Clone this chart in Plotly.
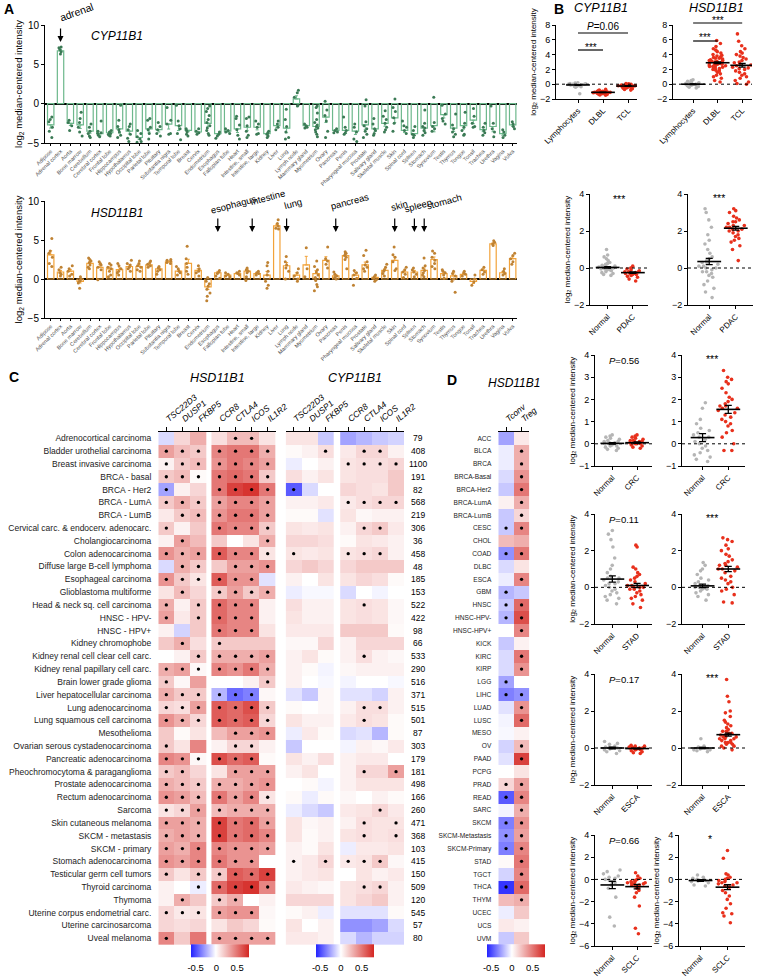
import numpy as np
import plotly.graph_objects as go

W, H = 760, 978
FONT = "Liberation Sans, Arial, sans-serif"
GREEN, GREEN_DOT = "#6db88c", "#3b7a55"
ORANGE, ORANGE_DOT = "#f2a33a", "#bf8233"
GREY, RED = "#b5b5b5", "#e8301c"

# ---------------- PANEL A: tissue atlas
tissues = ["Adipose", "Adrenal cortex", "Aorta", "Bone marrow", "Cerebellum", "Cerebral cortex",
           "Frontal lobe", "Hippocampus", "Hypothalamus", "Occipital lobe", "Parietal lobe",
           "Pituitary", "Substantia nigra", "Temporal lobe", "Breast", "Cervix", "Endometrium",
           "Esophagus", "Fallopian tube", "Heart", "Intestine, small", "Intestine, large",
           "Kidney", "Liver", "Lung", "Lymph node", "Mammary gland", "Myometrium", "Ovary",
           "Pancreas", "Penis", "Pharyngeal mucosa", "Prostate", "Salivary gland",
           "Skeletal muscle", "Skin", "Spinal cord", "Spleen", "Stomach", "Synovium", "Testis",
           "Thymus", "Tongue", "Tonsil", "Trachea", "Urethra", "Vagina", "Vulva"]

cyp_bar = [-2.7, 6.7, -2.5, -2.7, -3.5, -3.8, -3.7, -3.2, -3.5, -4.3, -3.2, -3.3, -2.6, -2.8,
           -3.4, -3.6, -2.5, -3.8, -3.5, -3.2, -3.0, -3.0, -3.8, -2.8, -3.1, 0.6, -2.8, -2.9,
           -1.7, -3.4, -3.4, -3.5, -2.7, -3.2, -2.5, -1.8, -3.4, -3.8, -3.1, -2.8, -1.4, -3.1,
           -2.8, -2.1, -3.3, -2.9, -3.8, -2.7]

cyp_dots = [
    [-1.7, -2.0, -2.3, -3.0, -3.5, -4.3], [7.2, 7.1, 6.6, 6.3, 6.9], [-2.1, -2.4, -2.8, -3.4],
    [-1.1, -1.9, -2.4, -3.0, -3.6, -4.1], [-2.6, -3.0, -3.5, -3.8, -4.1, -4.3],
    [-2.2, -3.5, -3.7, -3.8, -4.0, -4.2], [-3.4, -3.6, -3.8, -4.0, -4.1, -3.9],
    [-0.2, -2.1, -2.9, -3.3, -3.6, -4.0, -4.3], [-2.6, -2.9, -3.3, -3.9, -4.4, -4.8],
    [-3.4, -3.8, -4.2, -4.5, -4.8, -4.9], [-1.9, -2.1, -3.0, -3.3, -3.8, -4.5],
    [-2.4, -2.9, -3.3, -3.8, -4.1], [-0.5, -2.1, -2.6, -3.8, -3.9],
    [-0.2, -2.2, -2.8, -3.2, -3.8, -4.6], [-3.2, -3.4, -3.6, -3.9, -4.1], [-3.2, -3.5, -3.7, -3.9],
    [-0.3, -0.6, -1.0, -1.5, -2.0, -2.4, -2.8, -3.1, -3.4, -3.8, -4.0], [-3.6, -3.9, -4.1, -4.4],
    [-3.2, -3.4, -3.6, -3.8], [-1.6, -1.9, -2.7, -3.3, -4.0, -4.5], [-1.7, -1.9, -2.8, -3.5, -4.0, -4.3],
    [-2.2, -2.6, -3.0, -3.8, -3.9], [-3.5, -3.7, -3.9, -4.1, -4.3], [-2.2, -2.6, -3.0, -3.3],
    [-0.7, -2.0, -2.9, -3.6, -4.3, -4.5], [1.7, 1.4, 0.8, -0.2, -0.3], [-2.6, -2.8, -3.0, -3.1],
    [-0.3, -0.5, -1.2, -2.0, -2.4, -2.7, -2.9, -3.1, -3.3, -3.6, -3.9, -4.2],
    [0.3, -0.8, -1.5, -2.2, -3.5, -4.3], [-3.2, -3.4, -3.6, -3.7], [-1.7, -3.0, -3.4, -3.7, -3.9],
    [-2.6, -3.0, -3.6, -4.5, -4.8], [0.5, -0.3, -2.3, -2.8, -3.2, -3.5, -3.9, -4.3],
    [-1.9, -2.6, -3.2, -3.4, -3.8, -4.0], [-0.9, -1.6, -2.0, -2.5, -3.0, -3.3, -3.6],
    [0.6, -0.5, -1.0, -1.8, -2.5, -3.5], [-2.2, -2.8, -3.0, -3.4, -3.8], [-2.9, -3.4, -3.9, -4.3, -4.0],
    [-0.8, -2.5, -2.9, -3.1, -3.4, -3.7, -4.0], [0.8, -2.4, -2.9, -3.2, -3.5],
    [-0.2, -1.3, -1.9, -2.2, -2.6], [-1.3, -2.7, -3.2, -3.6, -3.9, -4.2],
    [-1.1, -2.5, -3.0, -3.4, -3.9, -4.0], [-0.6, -1.6, -2.5, -2.9, -3.0],
    [-2.5, -3.0, -3.4, -3.7, -4.0], [-0.3, -2.5, -3.2, -3.6, -4.2], [-3.3, -3.6, -4.0, -4.3],
    [-2.3, -2.6, -2.9, -3.2]]

hsd_bar = [3.1, 0.9, 1.0, -0.3, 2.0, 1.5, 1.3, 1.2, 1.6, 1.6, 1.8, 1.3, 2.2, 1.0, 2.0, 1.1, -1.0,
           0.8, 0.5, 0.7, 1.0, 0.7, 0.5, 6.8, 1.7, 0.5, 1.8, 0.7, 2.4, 0.4, 3.0, 0.5, 1.8, 0.2,
           1.1, 2.4, 0.9, 0.9, 1.1, 2.5, 0.7, 0.4, 0.6, -0.3, 1.1, 4.5, 0.8, 2.6]

hsd_dots = [
    [5.2, 3.6, 3.3, 2.8, 2.0, 1.6], [1.5, 1.2, 0.8, 0.6, 0.4], [1.7, 1.3, 1.0, 0.6, 0.4],
    [0.3, 0.0, -0.3, -0.5, -1.2, -0.2], [2.7, 2.5, 2.3, 2.1, 1.8, 1.5, 1.3],
    [2.2, 2.0, 1.8, 1.5, 1.2, -0.1], [2.0, 1.8, 1.5, 1.3, 1.0, 0.5, 0.3], [2.0, 1.7, 1.3, 1.0, 0.8, 0.5],
    [2.4, 2.0, 1.8, 1.5, 1.3, 1.0], [2.3, 2.0, 1.7, 1.5, 1.2, 1.0], [2.3, 2.1, 1.9, 1.7, 1.5],
    [1.6, 1.4, 1.2, 1.0, 0.6], [2.5, 2.4, 2.3, 2.1, 2.0], [1.6, 1.3, 1.0, 0.8, 0.5],
    [4.2, 2.6, 2.0, 1.5, 1.0, 0.6], [1.7, 1.3, 1.0, 0.8, 0.4],
    [0.2, -0.3, -0.6, -0.9, -1.3, -1.8, -2.2, -2.8], [1.1, 0.9, 0.7, 0.4, 0.1], [0.8, 0.6, 0.4, 0.3],
    [1.0, 0.8, 0.7, 0.5], [1.4, 1.2, 1.0, 0.8, 0.3, -0.2], [1.0, 0.8, 0.7, 0.5],
    [2.1, 1.7, 1.0, 0.5, -0.3, -0.8, -1.2], [7.6, 7.1, 6.8, 6.5, 6.4], [2.9, 2.2, 1.8, 1.4, 1.0, 0.0],
    [1.3, 0.8, 0.4, 0.0, -0.3], [4.0, 1.3, 0.3], [2.3, 1.6, 1.2, 0.9, 0.5, 0.2, -0.2, -0.7, -1.0, -1.5],
    [4.1, 2.6, 2.3, 1.9, 1.4], [0.9, 0.6, 0.4, 0.2, 0.0], [3.5, 3.3, 3.2, 3.0, 2.8, 2.5, 1.3],
    [1.1, 0.8, 0.5, 0.1, -0.8], [3.7, 3.0, 2.2, 1.8, 1.5, 1.3, 1.0], [0.5, 0.3, 0.1, -0.1, -0.3],
    [1.9, 1.5, 1.2, 1.0, 0.7, 0.4], [4.1, 3.1, 2.8, 2.2, 1.3, 1.1], [1.5, 1.2, 0.9, 0.6, 0.2],
    [1.4, 1.2, 0.9, 0.6, 0.3], [2.7, 1.7, 1.4, 1.1, 0.8, 0.5, 0.3], [3.6, 3.3, 2.8, 2.4, 2.0, 1.6, 1.3],
    [1.2, 1.0, 0.8, 0.5, 0.1], [1.0, 0.7, 0.4, 0.0, -0.3, -1.7], [1.0, 0.8, 0.6, 0.4],
    [0.5, 0.0, -0.4, -0.8], [1.5, 1.2, 0.9, 0.6], [4.9, 4.7, 4.5, 4.3], [1.3, 1.0, 0.7, 0.5],
    [3.3, 3.0, 2.6, 2.2, 1.9]]

# ---------------- PANEL B: normal vs tumour
b1_cats = ["Lymphocytes", "DLBL", "TCL"]
b1_cyp = [[0.2, 0.15, 0.1, 0.1, 0.05, 0.0, 0.0, -0.05, -0.1, -0.1, -0.15, -0.2, -0.2, -0.25, -0.3,
           -0.35, -0.4, -1.3, 0.0, -0.1],
          [-0.7, -0.8, -0.85, -0.9, -0.9, -0.95, -1.0, -1.0, -1.0, -1.05, -1.05, -1.1, -1.1, -1.1, -1.1,
           -1.15, -1.15, -1.2, -1.2, -1.2, -1.25, -1.25, -1.3, -1.3, -1.35, -1.4, -1.45, -1.5, -1.0,
           -1.1, -1.2, -1.15, -1.05],
          [0.1, 0.05, 0.0, -0.05, -0.1, -0.1, -0.15, -0.2, -0.2, -0.25, -0.25, -0.3, -0.3, -0.35, -0.4,
           -0.45, -0.5, -0.55, -0.6, -0.7, -0.8, -0.2, -0.3]]
b1_cyp_mean, b1_cyp_sem = [-0.1, -1.1, -0.25], [0.05, 0.03, 0.04]
b1_hsd = [[0.6, 0.5, 0.4, 0.3, 0.2, 0.15, 0.1, 0.05, 0.0, 0.0, -0.05, -0.1, -0.15, -0.2, -0.3, -0.4,
           -0.5, 0.0, -0.05, 0.1],
          [5.9, 5.5, 5.1, 4.8, 4.6, 4.4, 4.2, 4.0, 3.9, 3.8, 3.6, 3.5, 3.4, 3.3, 3.2, 3.1, 3.0, 3.0,
           2.9, 2.8, 2.8, 2.7, 2.6, 2.5, 2.5, 2.4, 2.3, 2.2, 2.1, 2.0, 1.9, 1.8, 1.6, 1.4, 1.2, 1.0,
           0.8, 0.5, 0.3, 3.5, 3.2, 2.9, 2.6, 2.4, 3.7, 3.1, 2.7],
          [6.8, 5.8, 5.2, 4.8, 4.4, 4.2, 4.0, 3.6, 3.4, 3.2, 3.0, 2.8, 2.6, 2.5, 2.3, 2.1, 2.0, 1.8,
           1.6, 1.4, 1.2, 1.0, 0.8, 0.5, 0.3, 0.1, 0.0, 3.8, 2.9, 2.2]]
b1_hsd_mean, b1_hsd_sem = [0.0, 2.9, 2.55], [0.04, 0.12, 0.25]

b2_cats = ["Normal", "PDAC"]
b2_cyp = [[1.0, 0.7, 0.6, 0.5, 0.4, 0.3, 0.25, 0.2, 0.15, 0.1, 0.1, 0.05, 0.0, 0.0, -0.05, -0.1, -0.1,
           -0.15, -0.2, -0.25, -0.3, -0.35, -0.4, 0.05, -0.05, 0.0],
          [0.1, 0.0, -0.05, -0.1, -0.15, -0.2, -0.2, -0.25, -0.25, -0.3, -0.3, -0.35, -0.35, -0.4, -0.45,
           -0.5, -0.6, -0.7, -0.3, -0.2]]
b2_cyp_mean, b2_cyp_sem = [0.03, -0.25], [0.04, 0.04]
b2_hsd = [[3.2, 3.0, 2.6, 2.2, 1.8, 1.5, 1.3, 1.0, 0.8, 0.6, 0.5, 0.4, 0.3, 0.2, 0.1, 0.0, -0.1, -0.2,
           -0.3, -0.4, -0.5, -0.7, -0.9, -1.1, -1.3, -1.6, 0.1, 0.0, -0.2, 0.3],
          [3.2, 3.1, 3.0, 2.8, 2.7, 2.6, 2.5, 2.4, 2.3, 2.2, 2.2, 2.1, 2.1, 2.0, 2.0, 1.9, 1.8, 1.7, 1.6,
           1.5, 1.4, 1.2, 1.0, 0.4, 2.3, 2.5]]
b2_hsd_mean, b2_hsd_sem = [0.35, 2.15], [0.17, 0.1]

b3_cats = ["Normal", "CRC"]
b3_cyp = [[0.4, 0.35, 0.3, 0.25, 0.2, 0.15, 0.1, 0.1, 0.05, 0.0, 0.0, -0.05, -0.1, -0.1, -0.15, -0.2,
           -0.25, -0.3, 0.05, 0.0],
          [0.4, 0.35, 0.3, 0.25, 0.2, 0.15, 0.15, 0.1, 0.1, 0.05, 0.05, 0.0, 0.0, -0.05, -0.1, -0.15,
           -0.2, 0.1, 0.05, 0.0]]
b3_cyp_mean, b3_cyp_sem = [0.02, 0.05], [0.03, 0.03]
b3_hsd = [[1.85, 1.6, 1.1, 0.9, 0.7, 0.6, 0.5, 0.4, 0.3, 0.2, 0.1, 0.0, -0.1, -0.2, -0.3, -0.4, -0.5,
           -0.6, -0.7, -0.8, 0.3],
          [3.3, 3.0, 2.9, 2.8, 2.7, 2.5, 2.3, 2.1, 2.0, 1.9, 1.8, 1.7, 1.6, 1.5, 1.4, 1.3, 1.2, 1.1,
           1.0, 0.9, 0.8, 0.6, 0.5, 0.3, 0.0, -0.3, -0.3, 1.6, 1.7]]
b3_hsd_mean, b3_hsd_sem = [0.28, 1.55], [0.18, 0.18]

b4_cats = ["Normal", "STAD"]
b4_cyp = [[3.1, 2.9, 2.6, 2.2, 1.6, 1.2, 1.0, 0.8, 0.6, 0.5, 0.4, 0.3, 0.2, 0.1, 0.0, -0.1, -0.2,
           -0.3, -0.4, -0.5, -0.6, -0.7, -0.9, 0.2, 0.5],
          [2.3, 2.2, 1.1, 1.0, 0.8, 0.7, 0.6, 0.5, 0.4, 0.3, 0.2, 0.1, 0.1, 0.0, 0.0, -0.1, -0.2, -0.3,
           -0.4, -0.5, -0.6, -0.7, -0.9, -1.1, 0.0, -0.1]]
b4_cyp_mean, b4_cyp_sem = [0.45, 0.1], [0.17, 0.12]
b4_hsd = [[1.35, 1.2, 1.0, 0.9, 0.7, 0.5, 0.4, 0.3, 0.2, 0.1, 0.05, 0.0, -0.05, -0.1, -0.2, -0.3,
           -0.4, -0.5, -0.7, 0.0, 0.1, -0.1],
          [2.7, 2.6, 2.5, 2.3, 2.1, 2.0, 1.8, 1.7, 1.5, 1.4, 1.3, 1.2, 1.1, 1.0, 0.9, 0.8, 0.6, 0.5,
           0.4, 0.3, 0.2, 0.0, -0.1, -0.2, -0.4, -0.8, -0.85, 1.0, 1.2]]
b4_hsd_mean, b4_hsd_sem = [0.08, 1.0], [0.1, 0.14]

b5_cats = ["Normal", "ESCA"]
b5_cyp = [[0.35, 0.25, 0.2, 0.1, 0.05, 0.0, 0.0, -0.05, -0.1, -0.15, -0.2, -0.3, 0.0, 0.05],
          [0.15, 0.1, 0.1, 0.05, 0.05, 0.0, 0.0, 0.0, -0.05, -0.05, -0.1, -0.1, -0.15, -0.2, -0.25,
           -0.3, 0.0, -0.05]]
b5_cyp_mean, b5_cyp_sem = [0.0, -0.03], [0.04, 0.02]
b5_hsd = [[0.5, 0.1, 0.05, 0.0, 0.0, -0.05, -0.1, -0.1, -0.15, -0.2, 0.0, -0.05],
          [3.7, 2.8, 2.5, 2.0, 1.9, 1.7, 1.5, 1.4, 1.3, 1.2, 1.1, 1.0, 0.9, 0.9, 0.8, 0.8, 0.7, 0.7,
           0.6, 0.6, 0.5, 0.5, 0.4, 0.4, 0.3, 0.3, 0.2, 0.2, 0.1, 0.1, 0.0, -0.1, 0.6, 0.5, 0.3, 0.8]]
b5_hsd_mean, b5_hsd_sem = [0.0, 0.72], [0.03, 0.08]

b6_cats = ["Normal", "SCLC"]
b6_cyp = [[0.85, 0.7, 0.5, 0.3, 0.2, 0.0, -0.1, -0.2, -0.3, -0.5, -0.8, -1.6, -3.4, -4.2, 0.1, -0.2],
          [0.6, 0.3, 0.1, 0.0, -0.1, -0.2, -0.3, -0.3, -0.4, -0.4, -0.5, -0.5, -0.6, -0.7, -0.8, -1.0,
           -1.2, -1.6, -2.4, -4.4, -4.9, -0.2, -0.3]]
b6_cyp_mean, b6_cyp_sem = [-0.5, -0.65], [0.33, 0.2]
b6_hsd = [[0.4, 0.2, 0.1, 0.0, -0.1, -0.1, -0.15, -0.2, -0.3, -0.5, -0.6, 0.0],
          [2.6, 1.9, 0.5, 0.4, 0.2, 0.1, 0.0, -0.1, -0.2, -0.3, -0.5, -0.7, -1.0, -1.2, -1.5, -1.8,
           -2.2, -2.6, -3.0, -3.1, -3.3, -3.9, -0.4, -0.3, -0.6]]
b6_hsd_mean, b6_hsd_sem = [-0.1, -0.7], [0.07, 0.22]

# ---------------- PANEL C: TCGA correlations
c_genes = ["TSC22D3", "DUSP1", "FKBP5", "CCR8", "CTLA4", "ICOS", "IL1R2"]
c_cancers = ["Adrenocortical carcinoma", "Bladder urothelial carcinoma", "Breast invasive carcinoma",
             "BRCA - basal", "BRCA - Her2", "BRCA - LumA", "BRCA - LumB",
             "Cervical carc. & endocerv. adenocarc.", "Cholangiocarcinoma", "Colon adenocarcinoma",
             "Diffuse large B-cell lymphoma", "Esophageal carcinoma", "Glioblastoma multiforme",
             "Head & neck sq. cell carcinoma", "HNSC - HPV-", "HNSC - HPV+", "Kidney chromophobe",
             "Kidney renal cell clear cell carc.", "Kidney renal papillary cell carc.",
             "Brain lower grade glioma", "Liver hepatocellular carcinoma", "Lung adenocarcinoma",
             "Lung squamous cell carcinoma", "Mesothelioma", "Ovarian serous cystadenocarcinoma",
             "Pancreatic adenocarcinoma", "Pheochromocytoma & paraganglioma", "Prostate adenocarcinoma",
             "Rectum adenocarcinoma", "Sarcoma", "Skin cutaneous melanoma", "SKCM - metastasis",
             "SKCM - primary", "Stomach adenocarcinoma", "Testicular germ cell tumors",
             "Thyroid carcinoma", "Thymoma", "Uterine corpus endometrial carc.",
             "Uterine carcinosarcoma", "Uveal melanoma"]
c_n = [79, 408, 1100, 191, 82, 568, 219, 306, 36, 458, 48, 185, 153, 522, 422, 98, 66, 533, 290,
       516, 371, 515, 501, 87, 303, 179, 181, 498, 166, 260, 471, 368, 103, 415, 150, 509, 120,
       545, 57, 80]

c_hsd = [[-0.1, 0.15, 0.3, 0.12, 0.25, 0.25, 0.1], [0.35, 0.25, 0.2, 0.45, 0.5, 0.5, 0.3],
         [0.05, 0.2, 0.25, 0.4, 0.5, 0.45, 0.35], [0.2, 0.25, 0.02, 0.5, 0.55, 0.5, 0.2],
         [-0.25, 0.05, 0.15, 0.5, 0.7, 0.75, 0.5], [0.2, 0.3, 0.2, 0.35, 0.45, 0.45, 0.35],
         [0.08, 0.2, 0.25, 0.4, 0.5, 0.5, 0.35], [0.2, 0.05, 0.2, 0.5, 0.45, 0.45, 0.2],
         [0.05, 0.35, 0.25, 0.2, 0.0, 0.1, 0.3], [0.4, 0.3, 0.35, 0.6, 0.45, 0.45, 0.1],
         [-0.1, 0.3, 0.2, 0.2, 0.35, 0.35, 0.4], [0.4, 0.2, 0.1, 0.6, 0.4, 0.4, -0.08],
         [0.1, 0.25, 0.15, 0.2, 0.35, 0.2, 0.3], [0.3, 0.05, 0.2, 0.55, 0.45, 0.45, 0.05],
         [0.35, 0.08, 0.2, 0.55, 0.45, 0.45, 0.05], [0.05, -0.12, 0.2, 0.5, 0.45, 0.45, 0.1],
         [0.2, 0.3, 0.12, 0.2, 0.2, 0.2, 0.2], [0.0, 0.05, 0.2, 0.3, 0.3, 0.3, 0.35],
         [0.3, 0.35, 0.03, 0.45, 0.4, 0.5, 0.3], [0.2, 0.03, 0.35, 0.0, 0.0, 0.05, 0.2],
         [0.3, 0.2, 0.2, -0.2, -0.4, -0.35, 0.03], [0.15, 0.12, 0.35, 0.6, 0.55, 0.65, 0.2],
         [0.4, 0.3, 0.15, 0.6, 0.55, 0.6, 0.15], [0.2, 0.02, 0.1, 0.25, 0.35, 0.35, 0.4],
         [0.2, 0.1, 0.45, 0.05, 0.15, 0.15, 0.05], [0.45, 0.4, 0.03, 0.65, 0.55, 0.6, 0.02],
         [0.2, 0.25, 0.15, 0.1, 0.35, 0.35, 0.35], [0.3, 0.25, 0.2, 0.3, 0.3, 0.35, 0.4],
         [0.4, 0.35, 0.25, 0.5, 0.35, 0.45, 0.1], [0.1, 0.15, 0.35, 0.25, 0.3, 0.3, 0.3],
         [0.35, 0.35, 0.3, 0.7, 0.5, 0.55, 0.35], [0.3, 0.35, 0.3, 0.7, 0.5, 0.55, 0.45],
         [0.35, 0.3, 0.45, 0.45, 0.4, 0.4, 0.35], [0.4, 0.35, 0.45, 0.5, 0.4, 0.4, 0.0],
         [0.2, 0.1, 0.2, 0.2, 0.6, 0.55, 0.7], [0.05, 0.0, -0.05, 0.55, 0.7, 0.75, 0.45],
         [0.05, 0.3, 0.2, 0.2, 0.3, 0.0, 0.05], [0.15, 0.08, 0.1, 0.35, 0.4, 0.4, 0.03],
         [0.15, 0.12, 0.15, 0.1, 0.2, 0.15, 0.02], [0.45, 0.2, 0.5, 0.35, 0.35, 0.35, 0.35]]
c_hsd_sig = ["0000110", "1111111", "1111111", "1111111", "1001111", "1111111", "0111111",
             "1001111", "0100001", "1111111", "0110111", "1111110", "0101111", "1011110",
             "1011110", "0001110", "0101000", "0011111", "1111111", "1000001", "1111110",
             "1111111", "1111111", "0000111", "1000110", "1111110", "1100111", "1111111",
             "1111111", "1111111", "1111111", "1111111", "1111111", "1111110", "1011111",
             "0011111", "0101100", "1111110", "0000000", "1001111"]

c_cyp = [[0.1, 0.1, -0.15, -0.25, -0.2, -0.15, -0.12], [0.02, 0.05, 0.12, 0.08, 0.15, 0.15, 0.05],
         [-0.05, 0.0, 0.05, 0.1, 0.12, 0.12, 0.15], [0.12, 0.05, 0.1, 0.1, 0.12, 0.12, 0.2],
         [-0.45, -0.1, 0.0, 0.15, 0.12, 0.1, 0.2], [0.05, 0.05, 0.08, 0.08, 0.12, 0.15, 0.15],
         [0.02, 0.02, -0.08, 0.1, 0.03, 0.05, 0.05], [0.1, 0.08, 0.1, 0.05, 0.15, 0.2, 0.08],
         [0.15, 0.15, 0.12, 0.02, 0.1, 0.08, 0.05], [0.1, 0.08, 0.1, 0.1, 0.12, 0.15, 0.05],
         [0.15, 0.2, 0.15, 0.15, 0.2, 0.2, 0.2], [0.05, 0.0, 0.1, 0.1, 0.15, 0.12, 0.02],
         [-0.05, -0.02, -0.02, -0.1, 0.0, -0.03, 0.0], [0.12, 0.05, 0.05, 0.1, 0.12, 0.1, 0.03],
         [0.1, 0.05, 0.05, 0.1, 0.12, 0.1, 0.03], [0.08, 0.08, 0.08, 0.2, 0.2, 0.2, 0.02],
         [0.03, 0.03, 0.15, 0.05, 0.15, 0.15, 0.15], [0.05, 0.1, 0.02, 0.05, 0.12, 0.05, 0.03],
         [0.05, 0.02, -0.03, 0.03, 0.05, 0.05, 0.05], [0.05, 0.0, -0.02, -0.03, 0.0, 0.0, -0.02],
         [-0.08, -0.15, 0.03, -0.08, -0.08, -0.12, 0.05], [0.02, 0.0, 0.03, 0.05, 0.12, 0.12, 0.05],
         [0.1, 0.05, 0.05, 0.08, 0.12, 0.1, 0.02], [-0.05, 0.08, 0.02, -0.1, -0.08, -0.2, 0.02],
         [-0.15, 0.0, 0.0, -0.03, 0.05, 0.03, 0.08], [0.1, 0.05, 0.12, 0.05, 0.08, 0.08, 0.0],
         [0.05, 0.1, 0.0, 0.05, 0.15, 0.15, 0.35], [0.0, 0.02, -0.03, 0.05, 0.1, 0.1, 0.1],
         [0.02, -0.05, 0.02, 0.03, 0.0, 0.05, 0.02], [-0.05, -0.1, -0.15, 0.08, 0.1, 0.15, 0.08],
         [0.1, 0.03, 0.05, 0.05, 0.12, 0.1, 0.1], [0.1, 0.02, 0.05, 0.1, 0.12, 0.1, 0.12],
         [0.05, 0.02, 0.1, -0.05, 0.08, 0.08, 0.1], [0.05, 0.08, 0.15, 0.08, 0.1, 0.2, 0.03],
         [0.05, 0.08, 0.1, 0.0, 0.1, 0.05, 0.08], [0.08, 0.05, 0.03, 0.1, 0.12, 0.15, 0.05],
         [0.15, 0.15, 0.15, 0.1, 0.15, 0.2, 0.05], [0.02, 0.05, -0.05, -0.08, -0.08, -0.08, 0.02],
         [0.1, 0.0, 0.05, -0.3, -0.3, -0.25, -0.1], [0.08, 0.08, 0.05, -0.1, -0.2, -0.12, -0.12]]
c_cyp_sig = ["0000000", "0010110", "0001111", "0000000", "1000000", "0001111", "0000000",
             "0000110", "0000000", "1001110", "0000000", "0000000", "0000000", "0000100",
             "0000000", "0000000", "0000000", "0000100", "0000000", "0000000", "0000000",
             "0000110", "0000100", "0000000", "0000000", "0000000", "0000101", "0000000",
             "0000000", "0000010", "0000101", "0000101", "0000000", "1011110", "0000000",
             "0000110", "0000000", "0000000", "0000000", "0000000"]

# ---------------- PANEL D: Tconv / Treg
d_cols = ["Tconv", "Treg"]
d_codes = ["ACC", "BLCA", "BRCA", "BRCA-Basal", "BRCA-Her2", "BRCA-LumA", "BRCA-LumB", "CESC",
           "CHOL", "COAD", "DLBC", "ESCA", "GBM", "HNSC", "HNSC-HPV-", "HNSC-HPV+", "KICK", "KIRC",
           "KIRP", "LGG", "LIHC", "LUAD", "LUSC", "MESO", "OV", "PAAD", "PCPG", "PRAD", "READ",
           "SARC", "SKCM", "SKCM-Metastasis", "SKCM-Primary", "STAD", "TGCT", "THCA", "THYM",
           "UCEC", "UCS", "UVM"]
d_vals = [[-0.25, 0.08], [-0.05, 0.3], [-0.05, 0.3], [-0.1, 0.4], [-0.15, 0.5], [0.05, 0.3],
          [-0.15, 0.15], [-0.15, 0.45], [0.25, 0.3], [-0.3, 0.5], [-0.1, 0.1], [-0.05, 0.45],
          [-0.2, -0.15], [-0.15, 0.55], [-0.2, 0.65], [0.0, 0.45], [-0.15, 0.05], [-0.1, 0.5],
          [-0.1, 0.4], [-0.25, 0.0], [-0.35, -0.3], [-0.08, 0.4], [-0.03, 0.55], [-0.02, 0.05],
          [-0.12, 0.25], [-0.08, 0.7], [0.0, 0.1], [0.15, 0.35], [-0.45, 0.45], [-0.03, 0.3],
          [-0.35, 0.4], [-0.3, 0.35], [-0.35, 0.45], [0.02, 0.5], [-0.12, 0.45], [-0.55, 0.55],
          [0.25, 0.3], [-0.05, 0.2], [0.08, 0.05], [-0.15, 0.2]]
d_sig = ["00", "01", "01", "01", "01", "01", "01", "11", "00", "11", "00", "01", "10", "11", "11",
         "01", "00", "01", "01", "10", "11", "01", "01", "00", "01", "01", "00", "11", "11", "01",
         "11", "11", "11", "01", "01", "11", "01", "00", "00", "00"]

# ======================================================================
fig = go.Figure()
layout = {}
shapes = []
annots = []
n_ax = 0


def X(p):
    return p / W


def Y(p):
    return 1 - p / H


def new_axes(xd, yd, xo, yo):
    global n_ax
    n_ax += 1
    s = '' if n_ax == 1 else str(n_ax)
    layout['xaxis' + s] = dict(domain=[X(xd[0]), X(xd[1])], anchor='y' + s, **xo)
    layout['yaxis' + s] = dict(domain=[Y(yd[1]), Y(yd[0])], anchor='x' + s, **yo)
    return 'x' + s, 'y' + s


def style(**kw):
    d = dict(showgrid=False, zeroline=False, showline=True, linecolor='black', linewidth=1,
             ticks='outside', ticklen=3, tickcolor='black', tickwidth=1, tickfont=dict(size=9))
    d.update(kw)
    return d


def note(text, x, y, size=9, xref='paper', yref='paper', **kw):
    annots.append(dict(text=text, x=x, y=y, xref=xref, yref=yref, showarrow=False,
                       xanchor='center', yanchor='middle', font=dict(size=size), **kw))


def arrow(xa, idx, head, tail):
    annots.append(dict(x=idx, y=Y(head), xref=xa, yref='paper', text='', showarrow=True,
                       ax=0, ay=-(head - tail), arrowhead=2, arrowsize=1, arrowwidth=1.2,
                       arrowcolor='black'))


YT = 'log<sub>2</sub> median-centered intensity'

# ---------------- PANEL A
def tissue_panel(top, bot, means, dots, edge, dotc):
    xa, ya = new_axes((45, 517), (top, bot),
                      style(type='category', categoryorder='array', categoryarray=tissues,
                            range=[-0.58, 47.44], tickangle=-45, ticklen=2,
                            tickfont=dict(size=5.5, color='#505050')),
                      style(range=[-5, 10], tickvals=[-5, 0, 5, 10], tickfont=dict(size=10),
                            zeroline=True, zerolinecolor='black', zerolinewidth=1.6,
                            title=dict(text=YT, font=dict(size=9.5), standoff=3)))
    sem = [np.std(d, ddof=1) / np.sqrt(len(d)) for d in dots]
    plus = [s if m >= 0 else 0 for s, m in zip(sem, means)]
    minus = [s if m < 0 else 0 for s, m in zip(sem, means)]
    fig.add_trace(go.Bar(x=tissues, y=means, xaxis=xa, yaxis=ya,
                         marker=dict(color='rgba(255,255,255,0)', line=dict(color=edge, width=1.2)),
                         error_y=dict(type='data', symmetric=False, array=plus, arrayminus=minus,
                                      color=edge, thickness=1, width=1.5)))
    bx, by = [], []
    for t, d in zip(tissues, dots):
        bx += [t] * len(d)
        by += d
    fig.add_trace(go.Box(x=bx, y=by, xaxis=xa, yaxis=ya, boxpoints='all', jitter=0.8, pointpos=0,
                         width=0.55, fillcolor='rgba(0,0,0,0)', line=dict(width=0),
                         marker=dict(color=dotc, size=3)))
    return xa, ya


xa1, ya1 = tissue_panel(25, 143, cyp_bar, cyp_dots, GREEN, GREEN_DOT)
xa2, ya2 = tissue_panel(201, 318, hsd_bar, hsd_dots, ORANGE, ORANGE_DOT)

note('<i>CYP11B1</i>', X(117), Y(36), size=12)
note('<i>HSD11B1</i>', X(117), Y(213), size=12)
note('adrenal', X(76), Y(12), size=10.5, textangle=-20)
arrow(xa1, 1, 42, 27)
for lab, idx, cx, cy in [("esophagus", 17, 233, 204), ("intestine", 20.5, 267, 197),
                         ("lung", 24, 293, 203), ("pancreas", 29, 349, 201),
                         ("skin", 35, 399, 206), ("spleen", 37, 418, 205), ("stomach", 38, 444, 201)]:
    note(lab, X(cx), Y(cy), size=9.5, textangle=-15)
    arrow(xa2, idx, 232, 217)

# ---------------- PANEL B
def dot_panel(xd, yd, cats, groups, means, sems, yr, dtick, xr, ytitle):
    yo = style(range=yr, dtick=dtick, tickfont=dict(size=9))
    if ytitle:
        yo['title'] = dict(text=YT, font=dict(size=8), standoff=2)
    xa, ya = new_axes(xd, yd,
                      style(type='category', categoryorder='array', categoryarray=cats, range=xr,
                            tickangle=-45, tickfont=dict(size=8)), yo)
    for i, (c, g) in enumerate(zip(cats, groups)):
        col = GREY if i == 0 else RED
        fig.add_trace(go.Box(x=[c] * len(g), y=g, xaxis=xa, yaxis=ya, boxpoints='all', jitter=1,
                             pointpos=0, width=0.8, fillcolor='rgba(0,0,0,0)', line=dict(width=0),
                             marker=dict(color=col, size=3.6)))
    fig.add_trace(go.Scatter(x=cats, y=means, xaxis=xa, yaxis=ya, mode='markers',
                             marker=dict(symbol='line-ew', size=17, color='black',
                                         line=dict(width=1.6, color='black')),
                             error_y=dict(type='data', array=sems, color='black', thickness=1.3,
                                          width=3.5)))
    shapes.append(dict(type='line', xref=xa + ' domain', yref=ya, x0=0, x1=1, y0=0, y1=0,
                       line=dict(color='black', width=1, dash='dot')))
    return xa, ya


L3, R3 = [-0.88, 2.36], [-0.82, 2.4]
L2, R2 = [-0.7, 1.6], [-0.8, 1.65]
bxa, _ = dot_panel((556, 637), (25, 99), b1_cats, b1_cyp, b1_cyp_mean, b1_cyp_sem, [-2, 8], 2, L3, True)
bxb, _ = dot_panel((673, 752), (25, 99), b1_cats, b1_hsd, b1_hsd_mean, b1_hsd_sem, [-2, 8], 2, R3, False)
note('<i>CYP11B1</i>', X(601), Y(8), size=12.5)
note('<i>HSD11B1</i>', X(716), Y(8), size=12.5)
for xa, x0, x1, ly, ty, txt in [(bxa, 0, 2, 33, 27, '<i>P</i>=0.06'), (bxa, 0, 1, 50, 47, '***'),
                                (bxb, 0, 2, 23, 21, '***'), (bxb, 0, 1, 41, 38, '***')]:
    shapes.append(dict(type='line', xref=xa, yref='paper', x0=x0, x1=x1, y0=Y(ly), y1=Y(ly),
                       line=dict(color='black', width=1.2)))
    note(txt, (x0 + x1) / 2, Y(ty), size=10, xref=xa)

rows = [((590, 648), (688, 753), (194, 305), [-2, 4], 2, b2_cats, b2_cyp, b2_cyp_mean, b2_cyp_sem,
         b2_hsd, b2_hsd_mean, b2_hsd_sem, '***', '***', False),
        ((595, 652), (682, 745), (355, 466), [-1, 4], 1, b3_cats, b3_cyp, b3_cyp_mean, b3_cyp_sem,
         b3_hsd, b3_hsd_mean, b3_hsd_sem, '<i>P</i>=0.56', '***', False),
        ((595, 652), (682, 745), (514, 624), [-2, 4], 2, b4_cats, b4_cyp, b4_cyp_mean, b4_cyp_sem,
         b4_hsd, b4_hsd_mean, b4_hsd_sem, '<i>P</i>=0.11', '***', False),
        ((595, 652), (682, 745), (674, 785), [-2, 4], 2, b5_cats, b5_cyp, b5_cyp_mean, b5_cyp_sem,
         b5_hsd, b5_hsd_mean, b5_hsd_sem, '<i>P</i>=0.17', '***', False),
        ((595, 652), (679, 745), (835, 946), [-6, 4], 2, b6_cats, b6_cyp, b6_cyp_mean, b6_cyp_sem,
         b6_hsd, b6_hsd_mean, b6_hsd_sem, '<i>P</i>=0.66', '*', True)]
for lx, rx, yd, yr, dt, cats, g1, m1, s1, g2, m2, s2, t1, t2, rt in rows:
    xa, _ = dot_panel(lx, yd, cats, g1, m1, s1, yr, dt, L2, True)
    xb, _ = dot_panel(rx, yd, cats, g2, m2, s2, yr, dt, R2, rt)
    if 'P' in t1:
        note(t1, 0.45, Y(yd[0] + 5), size=9.5, xref=xa)
    else:
        note(t1, 0.45, Y(yd[0] + 5), size=10.5, xref=xa)
    note(t2, 0.35, Y(yd[0] + 4), size=10.5, xref=xb)

# ---------------- PANELS C and D
CS = [[0, 'rgb(35,35,255)'], [0.4286, 'rgb(255,255,255)'], [1, 'rgb(212,38,34)']]
ZMIN, ZMAX = -0.6, 0.8
HTOP, HBOT = 431.9, 944.7


def cbar(cx):
    return dict(orientation='h', x=X(cx), xanchor='center', y=Y(958.5), yanchor='middle',
                thickness=13, thicknessmode='pixels', len=57.6, lenmode='pixels',
                tickvals=[-0.5, 0, 0.5], ticktext=['-0.5', '0', '0.5'], tickfont=dict(size=9.5),
                ticks='outside', ticklen=3, tickcolor='rgba(0,0,0,0)', outlinewidth=0,
                xpad=0, ypad=0)


def heat_panel(xd, cols, split, gap, vals, sig, rowlabels, labsize, show_labels, cx):
    pos = [j if j < split else j + gap for j in range(len(cols))]
    xa, ya = new_axes(xd, (HTOP, HBOT),
                      dict(side='top', range=[-0.5, pos[-1] + 0.5], tickvals=pos,
                           ticktext=['<i>%s</i>' % c for c in cols], tickangle=-40,
                           tickfont=dict(size=8.5), ticks='outside', ticklen=4, tickcolor='black',
                           showline=True, linecolor='black', linewidth=1.3, showgrid=False,
                           zeroline=False),
                      dict(type='category', categoryorder='array', categoryarray=rowlabels,
                           range=[len(rowlabels) - 0.5, -0.5], showline=False, ticks='',
                           showgrid=False, zeroline=False, showticklabels=show_labels,
                           tickfont=dict(size=labsize, color='#222'), ticklabelstandoff=6))
    parts = [(0, split), (split, len(cols))] if split < len(cols) else [(0, len(cols))]
    for k, (a, b) in enumerate(parts):
        fig.add_trace(go.Heatmap(z=[r[a:b] for r in vals], x=pos[a:b], y=rowlabels, xaxis=xa,
                                 yaxis=ya, colorscale=CS, zmin=ZMIN, zmax=ZMAX,
                                 showscale=(k == 0), colorbar=cbar(cx)))
    sx, sy = [], []
    for r, s in enumerate(sig):
        for j, ch in enumerate(s):
            if ch == '1':
                sx.append(pos[j])
                sy.append(rowlabels[r])
    fig.add_trace(go.Scatter(x=sx, y=sy, xaxis=xa, yaxis=ya, mode='markers',
                             marker=dict(color='black', size=3.3)))
    return xa, ya


heat_panel((158.3, 275.7), c_genes, 3, 0.31, c_hsd, c_hsd_sig, c_cancers, 8.5, True, 220.5)
_, cya = heat_panel((285.7, 404), c_genes, 3, 0.42, c_cyp, c_cyp_sig, c_cancers, 8.5, False, 345)
for name, n in zip(c_cancers, c_n):
    note(str(n), X(418), name, size=8.5, yref=cya)
heat_panel((498.3, 529.3), d_cols, 2, 0, d_vals, d_sig, d_codes, 6.6, True, 516)

note('<i>HSD11B1</i>', X(217), Y(378), size=12.5)
note('<i>CYP11B1</i>', X(355), Y(378), size=12.5)
note('<i>HSD11B1</i>', X(514), Y(383), size=12)

for lab, x, y in [('A', 9, 9), ('B', 559, 9), ('C', 14, 377), ('D', 452, 380)]:
    note('<b>%s</b>' % lab, X(x), Y(y), size=14)

layout.update(width=W, height=H, margin=dict(l=0, r=0, t=0, b=0, autoexpand=False),
              paper_bgcolor='white', plot_bgcolor='white', showlegend=False, bargap=0.35,
              font=dict(family=FONT, color='black'), shapes=shapes, annotations=annots)
fig.update_layout(**layout)
fig.write_html("out.html", config={'displayModeBar': False},
               post_script="document.body.style.margin='0px';document.body.style.overflow='hidden';")
